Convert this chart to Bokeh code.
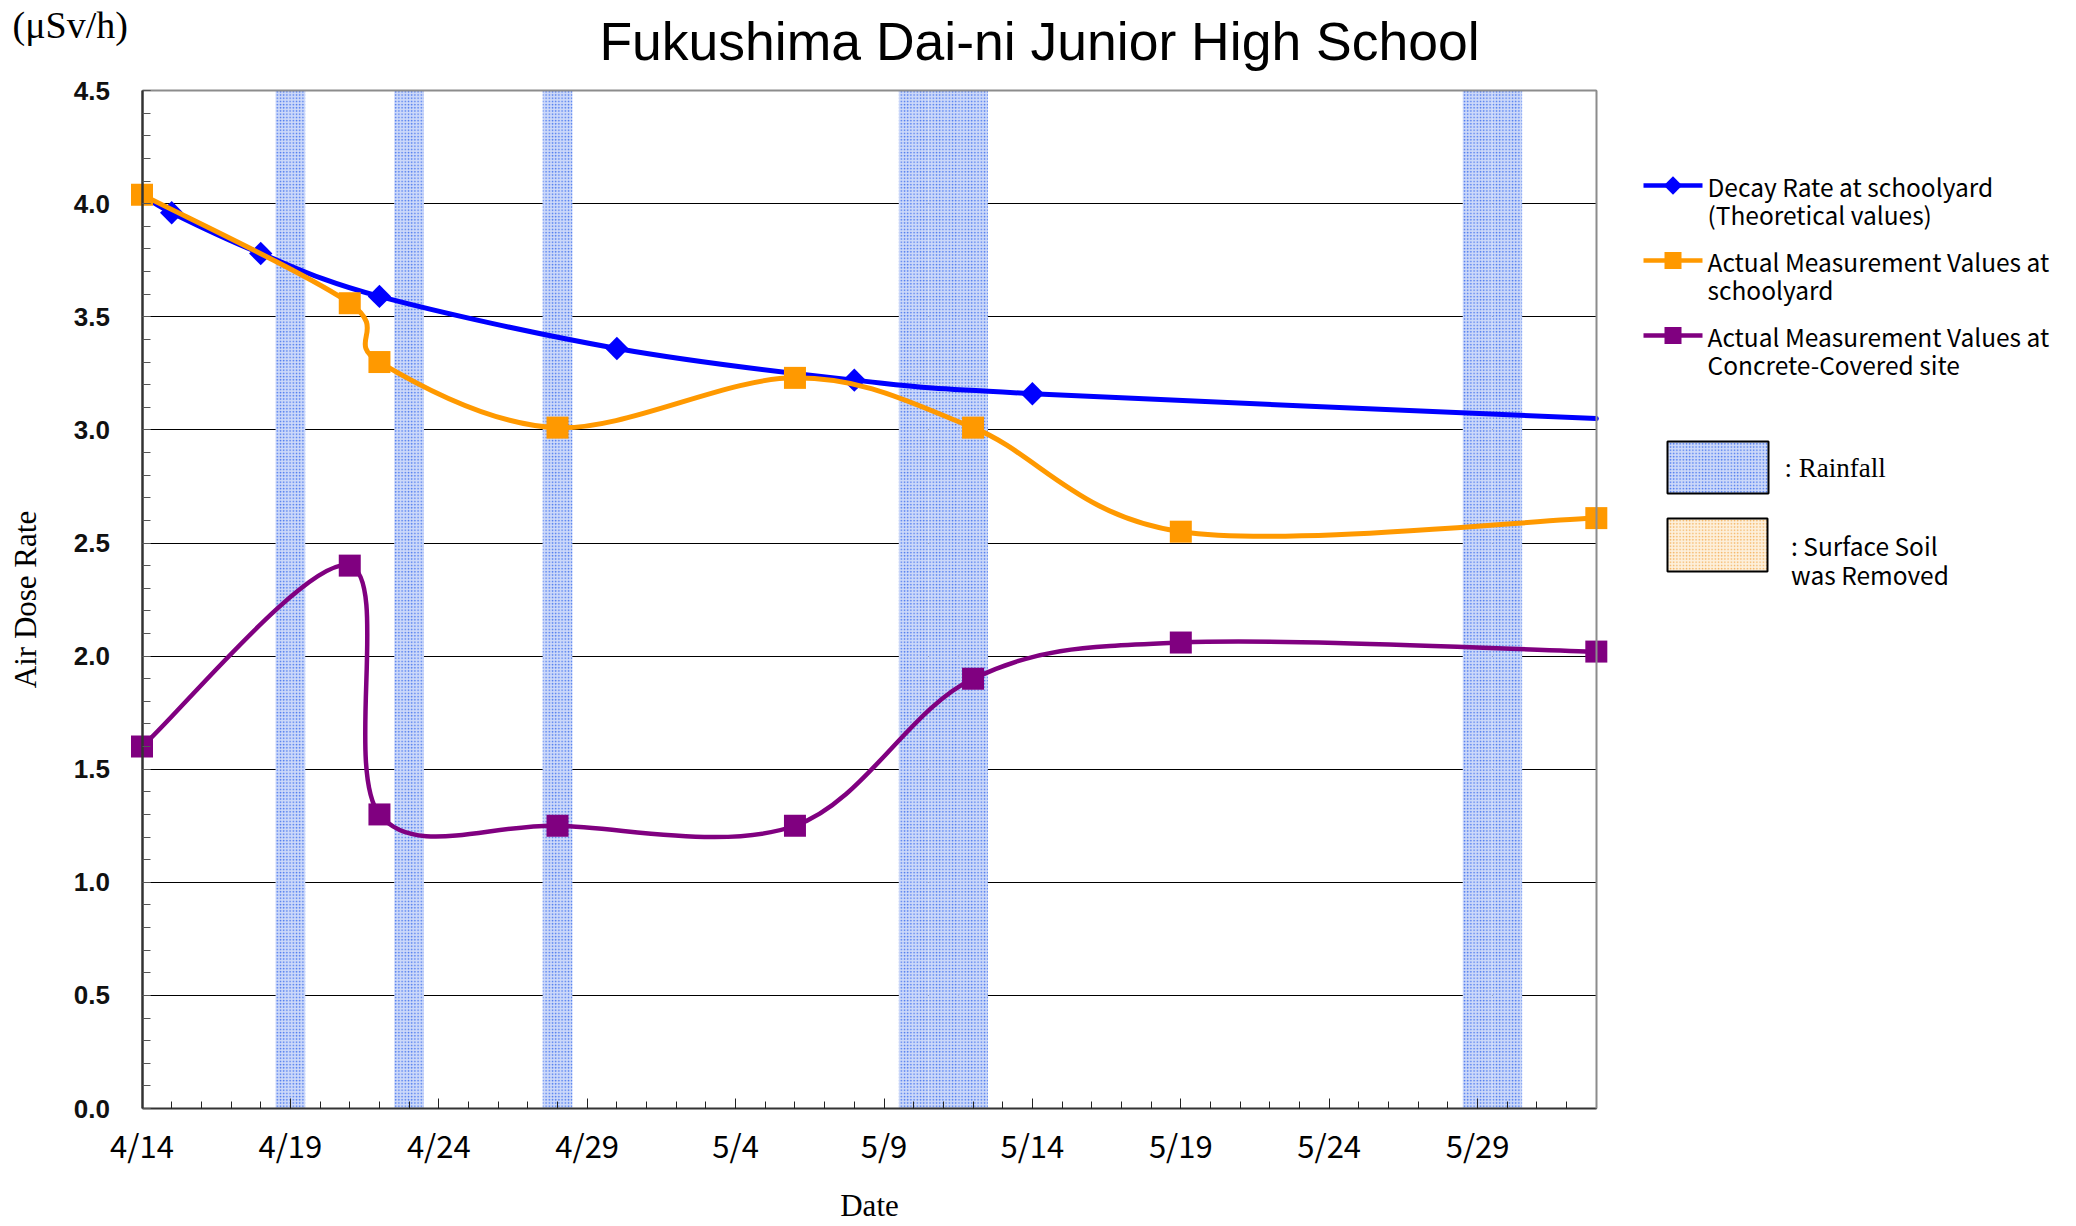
import numpy as np
import pandas as pd
from bokeh.plotting import figure
from bokeh.layouts import row
from bokeh.models import (Range1d, SingleIntervalTicker, FixedTicker, LinearAxis,
                          PrintfTickFormatter, Label, ColumnDataSource)
from bokeh.core.properties import value
from bokeh.embed import file_html
from bokeh.resources import INLINE

# ---------------- data ----------------
START = "2011-04-14"
END = "2011-06-02"

decay_dates = ["2011-04-14", "2011-04-15", "2011-04-18", "2011-04-22",
               "2011-04-30", "2011-05-08", "2011-05-14", "2011-06-02"]
decay_values = [4.04, 3.96, 3.78, 3.59, 3.36, 3.22, 3.16, 3.05]
decay_has_marker = [False, True, True, True, True, True, True, False]

meas_dates = ["2011-04-14", "2011-04-21", "2011-04-22", "2011-04-28",
              "2011-05-06", "2011-05-12", "2011-05-19", "2011-06-02"]
schoolyard_values = [4.04, 3.56, 3.30, 3.01, 3.23, 3.01, 2.55, 2.61]
concrete_values = [1.60, 2.40, 1.30, 1.25, 1.25, 1.90, 2.06, 2.02]

rain_dates = ["2011-04-19", "2011-04-23", "2011-04-28", "2011-05-10",
              "2011-05-11", "2011-05-12", "2011-05-29", "2011-05-30"]

x_tick_labels = ["4/14", "4/19", "4/24", "4/29", "5/4", "5/9",
                 "5/14", "5/19", "5/24", "5/29"]

series_names = [["Decay Rate at schoolyard", "(Theoretical values)"],
                ["Actual Measurement Values at", "schoolyard"],
                ["Actual Measurement Values at", "Concrete-Covered site"]]

title_text = "Fukushima Dai-ni Junior High School"
Y_MAX = 4.5

BLUE = "#0000ff"
ORANGE = "#ff9900"
PURPLE = "#800080"
RAIN_FILL, RAIN_DOT = "#cdd9f9", "#4675ee"
SOIL_FILL, SOIL_DOT = "#fdf0dc", "#f4b25e"


def to_day(dates):
    return ((pd.to_datetime(dates) - pd.Timestamp(START)).days).astype(float).to_numpy()


n_days = (pd.Timestamp(END) - pd.Timestamp(START)).days

# ---------------- layout constants (page pixels) ----------------
H = 1226
P_W = 1614
L_W = 2072 - P_W
X0_PX, PX_PER_DAY = 141.5, 29.68      # where day 0 sits, scale
Y0_PX, PX_PER_UNIT = 1108.0, 226.2    # where 0 uSv/h sits, scale

x_range = Range1d(-X0_PX / PX_PER_DAY, (P_W - X0_PX) / PX_PER_DAY)
y_range = Range1d((Y0_PX - H) / PX_PER_UNIT, Y0_PX / PX_PER_UNIT)

# ---------------- main figure ----------------
p = figure(width=P_W, height=H, output_backend="svg", toolbar_location=None,
           x_range=x_range, y_range=y_range, min_border=0)
p.background_fill_color = "white"
p.border_fill_color = "white"
p.outline_line_color = None

# grid
p.xgrid.visible = False
p.ygrid.grid_line_color = "#000000"
p.ygrid.grid_line_width = 1.2
p.ygrid.bounds = (0, Y_MAX)
p.ygrid.cross_bounds = (0, n_days)

# rain bands
rd = to_day(rain_dates)
p.quad(left=rd - 0.5, right=rd + 0.5, bottom=0, top=Y_MAX,
       fill_color=RAIN_FILL, line_color=None,
       hatch_pattern=".", hatch_color=RAIN_DOT, hatch_scale=3.2, hatch_weight=1.5)


def smooth(xs, ys):
    pts = np.column_stack([xs, ys]).astype(float)
    n = len(pts)
    d = dict(x0=[], y0=[], x1=[], y1=[], cx0=[], cy0=[], cx1=[], cy1=[])
    for i in range(n - 1):
        p0 = pts[i - 1] if i > 0 else pts[i]
        p1 = pts[i]
        p2 = pts[i + 1]
        p3 = pts[i + 2] if i + 2 < n else pts[i + 1]
        c1 = p1 + (p2 - p0) / 6.0
        c2 = p2 - (p3 - p1) / 6.0
        d["x0"].append(p1[0]); d["y0"].append(p1[1])
        d["x1"].append(p2[0]); d["y1"].append(p2[1])
        d["cx0"].append(c1[0]); d["cy0"].append(c1[1])
        d["cx1"].append(c2[0]); d["cy1"].append(c2[1])
    return ColumnDataSource(d)


dx = to_day(decay_dates)
mx = to_day(meas_dates)
bz = dict(x0="x0", y0="y0", x1="x1", y1="y1", cx0="cx0", cy0="cy0", cx1="cx1", cy1="cy1")

# axes (pinned to the data origin)
ya = p.yaxis[0]
ya.fixed_location = 0
ya.bounds = (0, Y_MAX)
ya.ticker = SingleIntervalTicker(interval=0.5, num_minor_ticks=5)
ya.formatter = PrintfTickFormatter(format="%.1f")
ya.major_tick_in = 8
ya.major_tick_out = 0
ya.minor_tick_in = 8
ya.minor_tick_out = 0
ya.major_tick_line_color = "#555555"
ya.minor_tick_line_color = "#555555"
ya.axis_line_color = "#333333"
ya.axis_line_width = 2.5
ya.major_label_text_font = "Liberation Sans"
ya.major_label_text_font_style = "bold"
ya.major_label_text_font_size = "26px"
ya.major_label_text_color = "#111111"
ya.major_label_standoff = 32
ya.axis_label = "Air Dose Rate"
ya.axis_label_text_font = "Liberation Serif"
ya.axis_label_text_font_style = "normal"
ya.axis_label_text_font_size = "31px"
ya.axis_label_text_color = "black"
ya.axis_label_standoff = 28

xa = p.xaxis[0]
xa.fixed_location = 0
xa.bounds = (0, n_days)
major_days = list(range(0, 5 * len(x_tick_labels), 5))
xa.ticker = FixedTicker(ticks=major_days, minor_ticks=list(range(0, n_days + 1)))
xa.major_label_overrides = {d: lab for d, lab in zip(major_days, x_tick_labels)}
xa.major_tick_in = 10
xa.major_tick_out = 0
xa.minor_tick_in = 7
xa.minor_tick_out = 0
xa.major_tick_line_color = "#222222"
xa.minor_tick_line_color = "#222222"
xa.axis_line_color = "#333333"
xa.axis_line_width = 2
xa.major_label_text_font = "Noto Sans CJK JP"
xa.major_label_text_font_size = "31px"
xa.major_label_text_color = "black"
xa.major_label_standoff = 13
xa.axis_label = "Date"
xa.axis_label_text_font = "Liberation Serif"
xa.axis_label_text_font_style = "normal"
xa.axis_label_text_font_size = "31px"
xa.axis_label_text_color = "black"
xa.axis_label_standoff = 18

# frame border on the right and at the top (plain axes without ticks)
for loc, place, bnds in [(n_days, "right", (0, Y_MAX)), (Y_MAX, "above", (0, n_days))]:
    ax = LinearAxis(fixed_location=loc, bounds=bnds, axis_line_color="#8c8c8c",
                    axis_line_width=2, major_tick_line_color=None,
                    minor_tick_line_color=None, major_label_text_color=None)
    p.add_layout(ax, place)

# series
p.bezier(source=smooth(dx, decay_values), line_color=BLUE, line_width=5, line_cap="round", **bz)
mk = np.array(decay_has_marker)
p.scatter(dx[mk], np.array(decay_values)[mk], marker="square", angle=np.pi / 4,
          size=16.5, fill_color=BLUE, line_color=None)

p.bezier(source=smooth(mx, schoolyard_values), line_color=ORANGE, line_width=5, line_cap="round", **bz)
p.scatter(mx, schoolyard_values, marker="square", size=22, fill_color=ORANGE, line_color=None)

p.bezier(source=smooth(mx, concrete_values), line_color=PURPLE, line_width=4.5, line_cap="round", **bz)
p.scatter(mx, concrete_values, marker="square", size=22, fill_color=PURPLE, line_color=None)

# title & unit (screen units from the canvas bottom-left)
p.add_layout(Label(x=1039, y=H - 41, x_units="screen", y_units="screen", text=title_text,
                   text_font="Liberation Sans", text_font_size="53.5px", text_color="black",
                   text_align="center", text_baseline="alphabetic"))
p.add_layout(Label(x=12, y=H - 24, x_units="screen", y_units="screen", text="(μSv/h)",
                   text_font="Liberation Serif", text_font_size="38px", text_color="black",
                   text_align="left", text_baseline="middle"))

# ---------------- legend panel (page-pixel coordinates) ----------------
lf = figure(width=L_W, height=H, output_backend="svg", toolbar_location=None,
            x_range=Range1d(P_W, P_W + L_W), y_range=Range1d(H, 0),
            x_axis_location=None, y_axis_location=None, min_border=0)
lf.grid.visible = False
lf.outline_line_color = None
lf.background_fill_color = "white"
lf.border_fill_color = "white"

row_y = [185, 260, 335]
colors = [BLUE, ORANGE, PURPLE]
lf.segment(x0=1643, x1=1702, y0=row_y, y1=row_y, line_color=colors, line_width=4.5)
lf.scatter(x=[1672.5], y=[row_y[0]], marker="square", angle=np.pi / 4, size=13,
           fill_color=BLUE, line_color=None)
lf.scatter(x=[1672.5, 1672.5], y=row_y[1:], marker="square", size=17,
           fill_color=[ORANGE, PURPLE], line_color=None)

txt_x, txt_y, txt = [], [], []
for i, names in enumerate(series_names):
    for j, s in enumerate(names):
        txt_x.append(1707)
        txt_y.append(row_y[i] + 1 + 28 * j)
        txt.append(s)
lf.text(x=txt_x, y=txt_y, text=txt, text_font=value("Noto Sans CJK JP"),
        text_font_size="24.5px", text_color="black", text_baseline="alphabetic")

lf.quad(left=[1667], right=[1768], top=[441], bottom=[493],
        fill_color=RAIN_FILL, line_color="black", line_width=2,
        hatch_pattern=".", hatch_color=RAIN_DOT, hatch_scale=3.2, hatch_weight=1.5)
lf.quad(left=[1667], right=[1767], top=[518], bottom=[571],
        fill_color=SOIL_FILL, line_color="black", line_width=2,
        hatch_pattern=".", hatch_color=SOIL_DOT, hatch_scale=3.2, hatch_weight=1.5)
lf.text(x=[1784], y=[467], text=[": Rainfall"], text_font=value("Liberation Serif"),
        text_font_size="27px", text_color="black", text_baseline="alphabetic")
lf.text(x=[1790.5, 1790.5], y=[545, 574], text=[": Surface Soil", "was Removed"],
        text_font=value("Noto Sans CJK JP"), text_font_size="24.5px", text_color="black",
        text_baseline="alphabetic")

layout = row(p, lf)
open("out.html", "w").write(file_html(layout, INLINE))
